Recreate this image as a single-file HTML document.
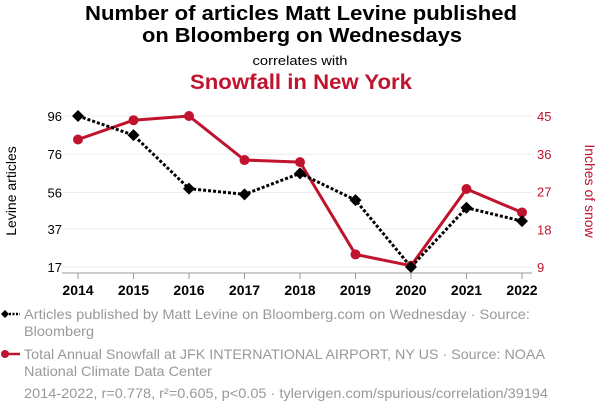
<!DOCTYPE html>
<html><head><meta charset="utf-8"><style>
body{margin:0;background:#fff;}
svg{display:block;font-family:"Liberation Sans",sans-serif;}
</style></head><body>
<svg width="600" height="414" viewBox="0 0 600 414">
<text x="301" y="20" text-anchor="middle" font-size="20" font-weight="bold" fill="#000" textLength="432" lengthAdjust="spacingAndGlyphs">Number of articles Matt Levine published</text>
<text x="302" y="42" text-anchor="middle" font-size="20" font-weight="bold" fill="#000" textLength="320" lengthAdjust="spacingAndGlyphs">on Bloomberg on Wednesdays</text>
<text x="300" y="65" text-anchor="middle" font-size="13" fill="#000" textLength="95" lengthAdjust="spacingAndGlyphs">correlates with</text>
<text x="301" y="89" text-anchor="middle" font-size="21" font-weight="bold" fill="#c0132e" textLength="222" lengthAdjust="spacingAndGlyphs">Snowfall in New York</text>
<g id="grid"></g>
<g id="axes"></g>
<g id="series"></g>
<text transform="translate(16,191) rotate(-90)" text-anchor="middle" font-size="14" fill="#000">Levine articles</text>
<text transform="translate(585,191) rotate(90)" text-anchor="middle" font-size="14" fill="#c0132e">Inches of snow</text>
<g>
<line x1="2" y1="314" x2="20" y2="314" stroke="#000" stroke-width="2.5" stroke-dasharray="2,1.5"/>
<path d="M5 310 L9 314 L5 318 L1 314 Z" fill="#000"/>
<text x="24" y="319" font-size="14" fill="#999" textLength="506" lengthAdjust="spacingAndGlyphs">Articles published by Matt Levine on Bloomberg.com on Wednesday · Source:</text>
<text x="24" y="336" font-size="14" fill="#999" textLength="70" lengthAdjust="spacingAndGlyphs">Bloomberg</text>
</g>
<g>
<line x1="4" y1="354" x2="20" y2="354" stroke="#c0132e" stroke-width="2.5"/>
<circle cx="5" cy="354" r="4" fill="#c0132e"/>
<text x="24" y="359" font-size="14" fill="#999" textLength="521" lengthAdjust="spacingAndGlyphs">Total Annual Snowfall at JFK INTERNATIONAL AIRPORT, NY US · Source: NOAA</text>
<text x="24" y="376" font-size="14" fill="#999" textLength="188" lengthAdjust="spacingAndGlyphs">National Climate Data Center</text>
</g>
<text x="24" y="398" font-size="14" fill="#999" textLength="524" lengthAdjust="spacingAndGlyphs">2014-2022, r=0.778, r²=0.605, p&lt;0.05 · tylervigen.com/spurious/correlation/39194</text>
</svg>
<script>
const years=[2014,2015,2016,2017,2018,2019,2020,2021,2022];
const levine=[96,86,58,55,66,52,17,48,41];
const snow=[39.4,44,45,34.5,34,12,9.3,27.6,22];
const leftTicks=[96,76,56,37,17];
const rightTicks=[45,36,27,18,9];
const NS="http://www.w3.org/2000/svg";
const x=y=>78+(y-2014)*55.5;
const yL=v=>116+(96-v)*(151/79);
const yR=v=>116+(45-v)*(151/36);
function mk(t,a,p){const e=document.createElementNS(NS,t);for(const k in a)e.setAttribute(k,a[k]);p.appendChild(e);return e;}
const grid=document.getElementById('grid'),axes=document.getElementById('axes'),ser=document.getElementById('series');
leftTicks.forEach((v,i)=>{
 const g=mk('line',{x1:62,x2:532,y1:yL(v),y2:yL(v),stroke:'#eee','stroke-width':1},grid);
 
 
 const t=mk('text',{x:62,y:yL(v)+5,'text-anchor':'end','font-size':13,fill:'#000'},axes);
 t.textContent=v;
 
 
});
rightTicks.forEach(v=>{
 const t=mk('text',{x:537,y:yR(v)+5,'font-size':13,fill:'#c0132e'},axes);
 t.textContent=v;
 
 
});
const ax=mk('line',{x1:62,x2:532,y1:273,y2:273,stroke:'#999','stroke-width':1},axes);


years.forEach(yr=>{
 mk('line',{x1:x(yr),x2:x(yr),y1:273,y2:279,stroke:'#999'},axes);
 const t=mk('text',{x:x(yr),y:295,'text-anchor':'middle','font-size':14,'font-weight':'bold',fill:'#000'},axes);
 t.textContent=yr;
 
 
});
const sp=mk('polyline',{points:years.map((yr,i)=>x(yr)+','+yR(snow[i])).join(' '),fill:'none',stroke:'#c0132e','stroke-width':3},ser);


const lp=mk('polyline',{points:years.map((yr,i)=>x(yr)+','+yL(levine[i])).join(' '),fill:'none',stroke:'#000','stroke-width':3,'stroke-dasharray':'3,2'},ser);


years.forEach((yr,i)=>{
 const c=mk('circle',{cx:x(yr),cy:yR(snow[i]),r:5,fill:'#c0132e'},ser);
 
 
});
years.forEach((yr,i)=>{
 const cx=x(yr),cy=yL(levine[i]);
 const d=mk('path',{d:`M${cx} ${cy-6}L${cx+6} ${cy}L${cx} ${cy+6}L${cx-6} ${cy}Z`,fill:'#000'},ser);
 
 
});
</script>
</body></html>
